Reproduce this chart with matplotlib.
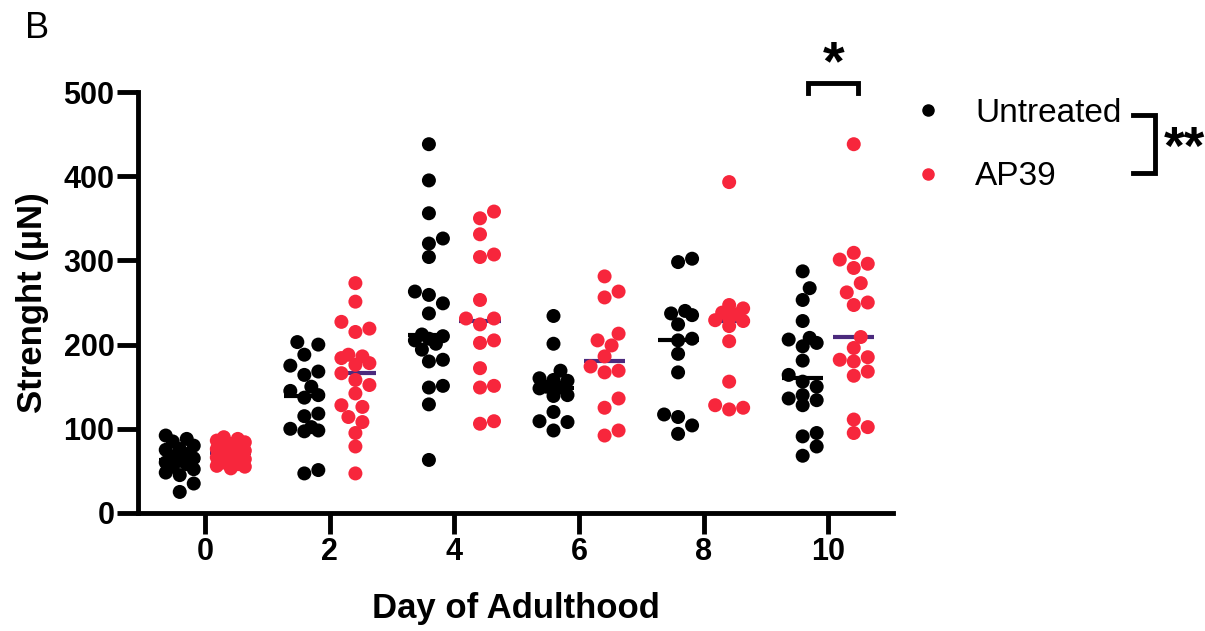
import numpy as np
import matplotlib
matplotlib.use('Agg')
import matplotlib.pyplot as plt
from matplotlib.lines import Line2D

plt.rcParams['font.family'] = ['Liberation Sans', 'DejaVu Sans']

days = [0, 2, 4, 6, 8, 10]
group_names = ['Untreated', 'AP39']

# strength (uN)
untreated_d0 = [92, 88, 85, 80, 76, 75, 70, 67, 65, 62, 60, 58, 55, 52, 48, 45, 35, 25]
untreated_d2 = [203, 200, 188, 175, 168, 164, 150, 145, 140, 137, 118, 115, 102, 100, 98, 97, 51, 47]
untreated_d4 = [438, 395, 356, 326, 320, 304, 263, 259, 249, 237, 212, 210, 207, 205, 201, 194,
                182, 180, 151, 149, 129, 63]
untreated_d6 = [234, 201, 169, 160, 158, 157, 150, 149, 148, 140, 139, 120, 109, 108, 98]
untreated_d8 = [302, 298, 240, 237, 235, 224, 207, 205, 189, 167, 117, 114, 104, 94]
untreated_d10 = [287, 267, 253, 228, 208, 206, 202, 198, 181, 164, 156, 150, 140, 136, 134, 128,
                 95, 91, 79, 68]

ap39_d0 = [90, 88, 86, 84, 82, 80, 78, 76, 74, 72, 70, 68, 66, 64, 62, 60, 58, 56, 55, 53]
ap39_d2 = [273, 251, 227, 219, 215, 188, 186, 184, 178, 176, 166, 158, 152, 142, 128, 126, 114,
           108, 95, 79, 47]
ap39_d4 = [358, 350, 331, 307, 304, 253, 231, 231, 224, 205, 202, 172, 151, 149, 109, 106]
ap39_d6 = [281, 263, 256, 213, 205, 199, 186, 174, 169, 167, 136, 125, 98, 92]
ap39_d8 = [393, 247, 243, 238, 236, 231, 229, 228, 222, 204, 156, 128, 125, 123]
ap39_d10 = [438, 309, 301, 296, 291, 273, 262, 250, 247, 209, 196, 185, 182, 180, 168, 163, 111,
            102, 95]

untreated = [untreated_d0, untreated_d2, untreated_d4, untreated_d6, untreated_d8, untreated_d10]
ap39 = [ap39_d0, ap39_d2, ap39_d4, ap39_d6, ap39_d8, ap39_d10]

black = '#000000'
red = '#F7263C'
purple = '#4B2A7D'

W, H = 1205, 631
fig = plt.figure(figsize=(W / 100, H / 100), dpi=100)
ax = fig.add_axes([138 / W, 118 / H, (893 - 138) / W, (513 - 92) / H])
ax.set_xlim(-1.08, 11.04)
ax.set_ylim(0, 500)

dot_px = 14.0
shift = 0.41
half_line = 0.33


def swarm_x(vals, center):
    # beeswarm in pixel space, width capped so dense groups overlap like prism does
    pts = ax.transData.transform(np.column_stack([np.full(len(vals), center), vals]))
    ys = pts[:, 1]
    cands = [0, 7, -7, 14, -14]
    placed = []
    xs = np.zeros(len(vals))
    for i in np.argsort(ys):
        best, best_d = 0, -1
        for off in cands:
            dmin = min([np.hypot(off - px, ys[i] - py) for px, py in placed] or [1e9])
            if dmin >= dot_px * 0.92:
                best = off
                break
            if dmin > best_d:
                best, best_d = off, dmin
        placed.append((best, ys[i]))
        xs[i] = pts[i, 0] + best
    return ax.transData.inverted().transform(np.column_stack([xs, ys]))[:, 0]


ms = (dot_px * 0.72) ** 2
for d, u, a in zip(days, untreated, ap39):
    for vals, pos, col, lcol in [(u, d - shift, black, black), (a, d + shift, red, purple)]:
        xs = swarm_x(vals, pos)
        med = np.median(vals)
        ax.plot([pos - half_line, pos + half_line], [med, med], color=lcol, lw=3.0,
                solid_capstyle='butt', zorder=2)
        ax.scatter(xs, vals, s=ms, color=col, edgecolors='none', zorder=3)

# significance bracket at day 10
bl, br = 10 - shift + 0.09, 10 + shift + 0.07
ax.plot([bl, bl, br, br], [499, 511, 511, 499], color='black', lw=3.5, clip_on=False,
        solid_joinstyle='miter')
ax.text((bl + br) / 2, 532, '*', ha='center', va='center', fontsize=40, fontweight='bold')

for s in ['top', 'right']:
    ax.spines[s].set_visible(False)
for s in ['left', 'bottom']:
    ax.spines[s].set_linewidth(3.5)
ax.set_xticks(days)
ax.set_yticks(np.arange(0, 501, 100))
ax.tick_params(width=3.5, length=15, labelsize=22, pad=2)
for lab in ax.get_xticklabels() + ax.get_yticklabels():
    lab.set_fontweight('bold')
ax.set_xlabel('Day of Adulthood', fontsize=25, fontweight='bold', labelpad=18)
ax.set_ylabel('Strenght (µN)', fontsize=25, fontweight='bold', labelpad=10)

handles = [Line2D([], [], marker='o', ls='none', color=black, markersize=8),
           Line2D([], [], marker='o', ls='none', color=red, markersize=8)]
fig.legend(handles, group_names, loc='center left', bbox_to_anchor=(911 / W, 1 - 145 / H),
           frameon=False, fontsize=24, handlelength=1.0, handletextpad=0.92, labelspacing=0.98,
           borderpad=0, borderaxespad=0)

# bracket beside the legend
bx = [1133 / W, 1155 / W, 1155 / W, 1133 / W]
by = [1 - 115 / H, 1 - 115 / H, 1 - 173 / H, 1 - 173 / H]
fig.add_artist(Line2D(bx, by, color='black', lw=3.5, transform=fig.transFigure,
                      solid_joinstyle='miter'))
fig.text(1184 / W, 1 - 150 / H, '**', ha='center', va='center', fontsize=38, fontweight='bold')

fig.text(25 / W, 1 - 28 / H, 'B', ha='left', va='center', fontsize=26)

fig.savefig('out.png', dpi=100)
